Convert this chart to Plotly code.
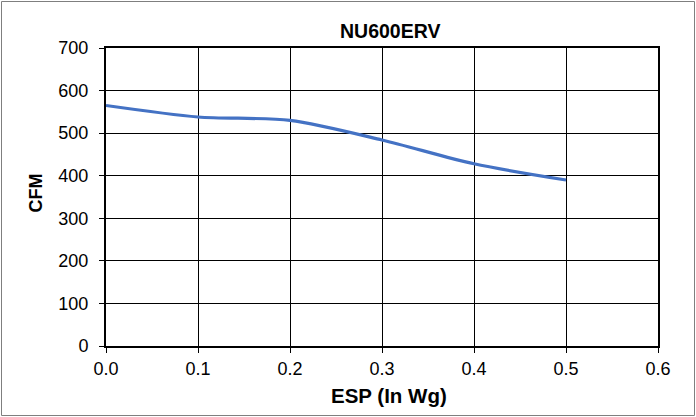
import plotly.graph_objects as go

esp = [0.0, 0.1, 0.2, 0.3, 0.4, 0.5]
cfm = [565, 538, 530, 484, 428, 390]
title_text = "NU600ERV"
x_title = "ESP (In Wg)"
y_title = "CFM"

W, H = 696, 417
L, R, T, B = 106, 38, 48, 71
pw, ph = W - L - R, H - T - B


def px_x(p):
    return (p - L) / pw


def px_y(p):
    return (T + ph - p) / ph


fig = go.Figure()
fig.add_trace(go.Scatter(x=esp, y=cfm, mode="lines",
                         line=dict(color="#4472C4", width=3.2, shape="spline", smoothing=0.8),
                         hoverinfo="x+y"))

font = "Liberation Sans, Arial, sans-serif"
fig.update_layout(
    width=W, height=H,
    margin=dict(l=L, r=R, t=T, b=B),
    paper_bgcolor="white", plot_bgcolor="white",
    showlegend=False,
    font=dict(family=font, size=18, color="black"),
    xaxis=dict(range=[0, 0.6], dtick=0.1, tickformat=".1f",
               showgrid=True, gridcolor="black", gridwidth=1,
               showline=True, linecolor="black", linewidth=2, mirror=True,
               ticks="outside", ticklen=5, tickcolor="black",
               zeroline=False),
    yaxis=dict(range=[0, 700], dtick=100,
               showgrid=True, gridcolor="black", gridwidth=1,
               showline=True, linecolor="black", linewidth=2, mirror=True,
               ticks="outside", ticklen=5, tickcolor="black",
               ticklabelstandoff=7,
               zeroline=False),
)

fig.add_annotation(text="<b>" + title_text + "</b>", xref="paper", yref="paper",
                   x=px_x(389.5), y=px_y(31.3), xanchor="center", yanchor="middle",
                   showarrow=False, font=dict(size=19.5, family=font))
fig.add_annotation(text="<b>" + x_title + "</b>", xref="paper", yref="paper",
                   x=px_x(389), y=px_y(395.5), xanchor="center", yanchor="middle",
                   showarrow=False, font=dict(size=20.5, family=font))
fig.add_annotation(text="<b>" + y_title + "</b>", xref="paper", yref="paper",
                   x=px_x(35.5), y=px_y(193), xanchor="center", yanchor="middle",
                   textangle=-90, showarrow=False, font=dict(size=18, family=font))

fig.add_shape(type="rect", xref="paper", yref="paper",
              x0=px_x(1.5), x1=px_x(W - 1.5),
              y0=px_y(H - 1.5), y1=px_y(1.5),
              line=dict(color="#7f7f7f", width=1), layer="below")

fig.write_html("out.html", config={"displayModeBar": False},
               post_script="document.body.style.margin='0';document.body.style.overflow='hidden';")
